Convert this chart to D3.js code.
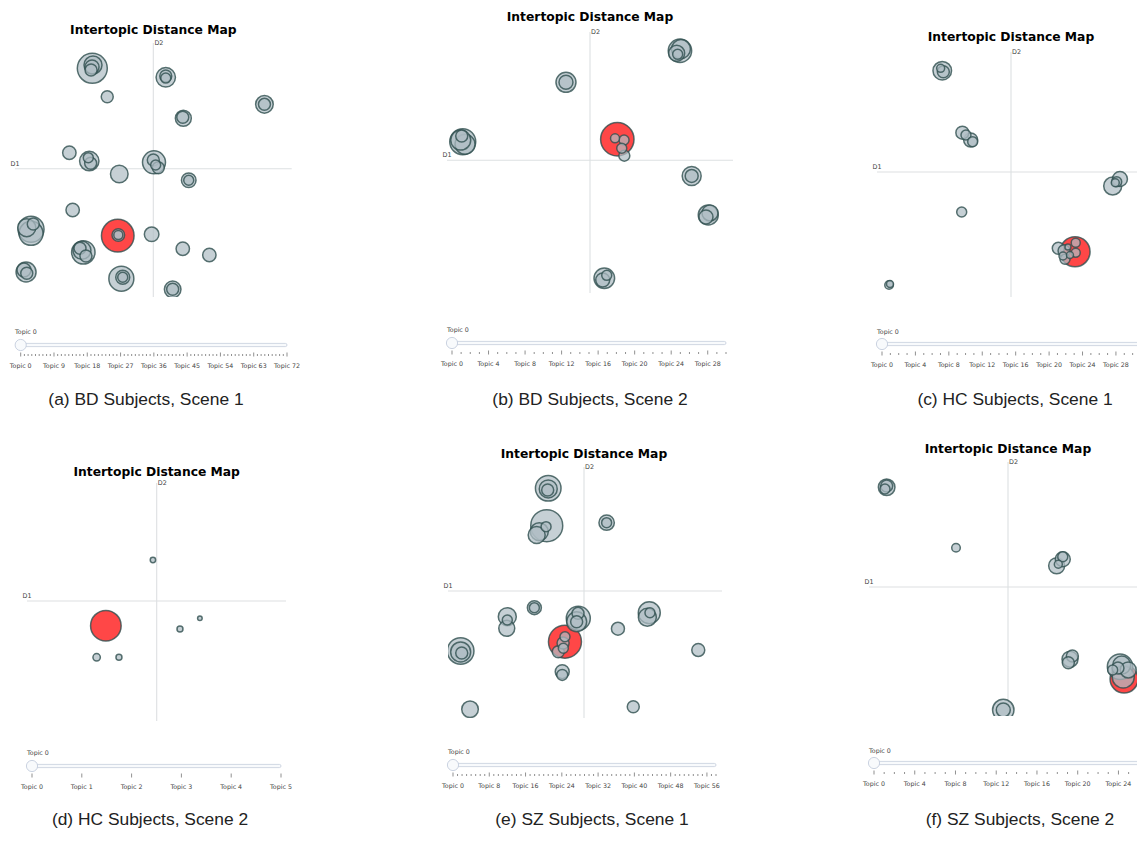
<!DOCTYPE html>
<html><head><meta charset="utf-8">
<script src="https://cdn.jsdelivr.net/npm/d3@7"></script>
<style>body{margin:0;background:#fff} svg{display:block}</style>
</head><body>
<svg id="chart" width="1137" height="841"></svg>
<script>
// ---------- DATA ----------
const chartTitle = "Intertopic Distance Map";
const captions = ["(a) BD Subjects, Scene 1","(b) BD Subjects, Scene 2","(c) HC Subjects, Scene 1",
                  "(d) HC Subjects, Scene 2","(e) SZ Subjects, Scene 1","(f) SZ Subjects, Scene 2"];
const topicCounts = [73, 31, 32, 6, 59, 28];
const labelSteps  = [9, 4, 4, 1, 8, 4];
const selectedTopic = "Topic 0";

// Panel (a) BD Scene 1 (index 0 = Topic 0, highlighted)
const aD1 = [-2.57,-4.41,-4.36,-4.43,-4.50,0.90,0.90,0.90,-3.33,8.03,8.03,2.17,2.13,-6.07,-4.63,-4.70,-4.53,-2.46,0.05,0,0.36,0.17,2.56,2.56,-5.83,-8.84,-8.84,-9.15,-8.68,-2.53,-2.53,-0.12,-5.06,-5.30,-4.87,-5.16,2.13,4.05,-9.20,-9.15,-9.35,-2.31,-2.21,-2.21,1.40,1.40];
const aD2 = [-5.22,7.99,8.25,8.09,7.85,7.27,7.37,7.21,5.73,5.12,5.12,4.01,4.09,1.27,0.61,0.88,0.43,-0.41,0.51,0.69,0.08,0.29,-0.90,-0.90,-3.22,-4.72,-5.04,-4.60,-4.31,-5.17,-5.17,-5.11,-6.52,-6.20,-6.80,-6.36,-6.24,-6.73,-8.05,-8.15,-7.90,-8.57,-8.46,-8.46,-9.40,-9.40];
const aSize = [1063,900,324,196,144,376,144,100,144,310,144,256,144,180,376,100,144,310,529,144,144,100,213,100,180,676,576,324,144,159,81,213,548,144,144,324,180,180,400,144,196,625,196,100,276,144];

// Panel (b) BD Scene 2
const bD1 = [1.91,6.29,6.06,6.13,6.36,-1.68,-1.68,-8.97,-8.74,-9.04,-8.90,1.75,2.38,2.22,2.40,7.11,7.11,8.27,8.11,8.39,1.00,1.17,0.89];
const bD2 = [1.64,8.54,8.34,8.26,8.67,6.08,6.08,1.89,1.25,1.58,1.45,1.71,1.58,0.94,0.36,-1.18,-1.18,-4.12,-4.27,-3.97,-8.89,-8.67,-9.02];
const bSize = [1116,548,256,100,361,400,196,144,400,400,676,81,100,100,121,361,169,400,196,256,424,100,196];

// Panel (c) HC Scene 1
const cD1 = [4.78,-5.13,-5.25,-5.05,-3.63,-3.36,-3.01,-2.86,7.59,8.13,7.89,7.78,-3.68,3.53,3.96,4.83,4.83,4.40,4.03,4.25,3.88,-9.10,-9.03];
const cD2 = [-6.38,8.44,8.64,8.36,3.28,3.08,2.67,2.53,-1.12,-0.56,-0.78,-0.86,-3.20,-6.10,-6.30,-5.66,-6.46,-6.64,-6.98,-6.00,-6.72,-9.04,-8.96];
const cSize = [900,346,64,144,169,100,196,100,324,225,100,64,100,144,144,81,81,49,100,36,64,74,49];

// Panel (d) HC Scene 2
const dD1 = [-3.92,-0.29,3.34,1.80,-4.63,-2.91];
const dD2 = [-2.06,3.47,-1.44,-2.33,-4.69,-4.69];
const dSize = [936,29,21,36,55,36];

// Panel (e) SZ Scene 1
const eD1 = [-1.40,-2.63,-2.67,-2.63,-2.74,-2.79,-3.29,-3.48,1.64,1.64,-3.65,-3.65,-5.64,-5.68,-5.64,-0.42,-0.54,-0.44,-0.54,4.73,4.78,4.59,2.46,-1.40,-1.52,-1.89,-1.54,-9.07,-8.99,-9.07,8.28,-1.60,-1.60,-8.38,3.57];
const eD2 = [-3.99,8.28,8.15,8.23,5.27,5.19,4.78,4.52,5.51,5.51,-1.31,-1.31,-2.02,-2.94,-2.28,-2.15,-2.42,-1.76,-2.42,-1.71,-1.71,-2.07,-2.97,-3.60,-4.51,-4.78,-4.09,-4.72,-4.88,-4.80,-4.65,-6.35,-6.61,-9.31,-9.11];
const eSize = [1089,655,144,324,1024,100,324,289,237,100,196,100,324,256,100,576,400,144,144,484,100,324,169,100,100,144,144,708,144,400,169,196,121,276,144];

// Panel (f) SZ Scene 2
const fD1 = [8.35,-8.73,-8.85,-8.73,-3.74,3.94,3.50,3.62,3.94,4.46,4.63,4.34,8.06,8.18,7.53,8.65,8.29,7.91,-0.34,-0.34];
const fD2 = [-7.13,7.98,7.84,8.08,3.14,2.22,1.70,1.82,2.42,-5.60,-5.35,-5.87,-6.18,-6.05,-6.43,-6.43,-6.98,-6.28,-9.53,-9.53];
const fSize = [784,276,100,144,74,225,256,64,100,256,144,144,645,324,100,256,484,144,458,196];

const panelData = [[aD1,aD2,aSize],[bD1,bD2,bSize],[cD1,cD2,cSize],[dD1,dD2,dSize],[eD1,eD2,eSize],[fD1,fD2,fSize]];

// ---------- LAYOUT ----------
const layouts = [
  {left:15,  right:291.7, top:43,  bottom:297, cx:153.3, cy:168.7, titleY:33.5, lx:15,  ly:334, ty:345, x0:20.7, x1:287,  capX:146,  capY:405},
  {left:447, right:733,   top:32,  bottom:293, cx:590,   cy:160.3, titleY:20.7, lx:447, ly:332, ty:343, x0:452,  x1:726,  capX:590,  capY:405},
  {left:877, right:1145,  top:52,  bottom:297, cx:1011,  cy:172,   titleY:41,   lx:877, ly:334, ty:344, x0:882,  x1:1141, capX:1015, capY:405},
  {left:27,  right:286,   top:483, bottom:721, cx:156.7, cy:601,   titleY:475.5,lx:27,  ly:755, ty:766, x0:32,   x1:281,  capX:150,  capY:825},
  {left:448, right:722,   top:467, bottom:718, cx:584,   cy:591,   titleY:458,  lx:448, ly:754, ty:765, x0:453,  x1:716,  capX:592,  capY:825},
  {left:869, right:1147,  top:462, bottom:716, cx:1008,  cy:587,   titleY:453,  lx:869, ly:753, ty:763, x0:874,  x1:1149, capX:1020, capY:825}
];

const svg = d3.select("#chart");
const smallFont = "DejaVu Sans, Verdana, sans-serif";
const rScale = d3.scaleSqrt().domain([0, 1000]).range([0, 15.81]);

layouts.forEach((L, pi) => {
  const g = svg.append("g");
  const x = d3.scaleLinear().domain([-10, 0, 10]).range([L.left, L.cx, L.right]);
  const y = d3.scaleLinear().domain([-10, 0, 10]).range([L.bottom, L.cy, L.top]);
  const [D1, D2, S] = panelData[pi];
  const pts = D1.map((v, i) => ({topic: i, x: v, y: D2[i], size: S[i]}));
  const ordered = [pts[0]].concat(pts.slice(1).sort((a, b) => b.size - a.size));

  // title
  g.append("text").attr("x", L.cx).attr("y", L.titleY).attr("text-anchor", "middle")
    .attr("font-family", smallFont).attr("font-weight", "bold").attr("font-size", 12.3)
    .attr("fill", "#000").text(chartTitle);

  // axis lines
  g.append("line").attr("x1", x(-10)).attr("x2", x(10)).attr("y1", y(0)).attr("y2", y(0))
    .attr("stroke", "#dde0e2").attr("stroke-width", 1.1);
  g.append("line").attr("x1", x(0)).attr("x2", x(0)).attr("y1", y(-10)).attr("y2", y(10))
    .attr("stroke", "#dde0e2").attr("stroke-width", 1.1);
  g.append("text").attr("x", x(-10)).attr("y", y(0) - 3.2).attr("text-anchor", "middle")
    .attr("font-family", smallFont).attr("font-size", 6.4).attr("fill", "#444").text("D1");
  g.append("text").attr("x", x(0) + 5.6).attr("y", y(10) + 2).attr("text-anchor", "middle")
    .attr("font-family", smallFont).attr("font-size", 6.4).attr("fill", "#444").text("D2");

  // clip
  const cid = "clip" + pi;
  svg.append("clipPath").attr("id", cid).append("rect")
    .attr("x", x(-10)).attr("y", y(10)).attr("width", x(10) - x(-10)).attr("height", y(-10) - y(10));
  g.append("g").attr("clip-path", `url(#${cid})`)
    .selectAll("circle").data(ordered).join("circle")
    .attr("cx", d => x(d.x)).attr("cy", d => y(d.y)).attr("r", d => rScale(d.size))
    .attr("fill", d => d.topic === 0 ? "red" : "#B0BEC5")
    .attr("fill-opacity", 0.72)
    .attr("stroke", "DarkSlateGrey").attr("stroke-opacity", 0.8).attr("stroke-width", 1.5);

  // slider
  const n = topicCounts[pi], step = labelSteps[pi];
  const sx = d3.scaleLinear().domain([0, n - 1]).range([L.x0, L.x1]);
  g.append("text").attr("x", L.lx).attr("y", L.ly).attr("font-family", smallFont)
    .attr("font-size", 6.3).attr("fill", "#444").text(selectedTopic);
  g.append("rect").attr("x", L.x0).attr("y", L.ty - 1.6).attr("width", L.x1 - L.x0).attr("height", 3.2)
    .attr("rx", 1.6).attr("fill", "#f8fafc").attr("stroke", "#bec8d9").attr("stroke-width", 0.7);
  const idx = d3.range(n);
  g.selectAll("line.tk").data(idx).join("line").attr("class", "tk")
    .attr("x1", i => sx(i)).attr("x2", i => sx(i))
    .attr("y1", i => L.ty + (i % step === 0 ? 7.5 : 9)).attr("y2", i => L.ty + (i % step === 0 ? 11.5 : 11))
    .attr("stroke", "#444").attr("stroke-width", 0.6);
  g.selectAll("text.tl").data(idx.filter(i => i % step === 0)).join("text").attr("class", "tl")
    .attr("x", i => sx(i)).attr("y", L.ty + 22.5).attr("text-anchor", "middle")
    .attr("font-family", smallFont).attr("font-size", 6.3).attr("fill", "#444").text(i => "Topic " + i);
  g.append("circle").attr("cx", sx(0)).attr("cy", L.ty).attr("r", 5.6)
    .attr("fill", "#f8fafc").attr("stroke", "#bec8d9").attr("stroke-width", 0.8);

  // caption
  svg.append("text").attr("x", L.capX).attr("y", L.capY).attr("text-anchor", "middle")
    .attr("font-family", "Liberation Sans, Arial, sans-serif").attr("font-size", 17.4)
    .attr("fill", "#222").text(captions[pi]);
});
</script>
</body></html>
